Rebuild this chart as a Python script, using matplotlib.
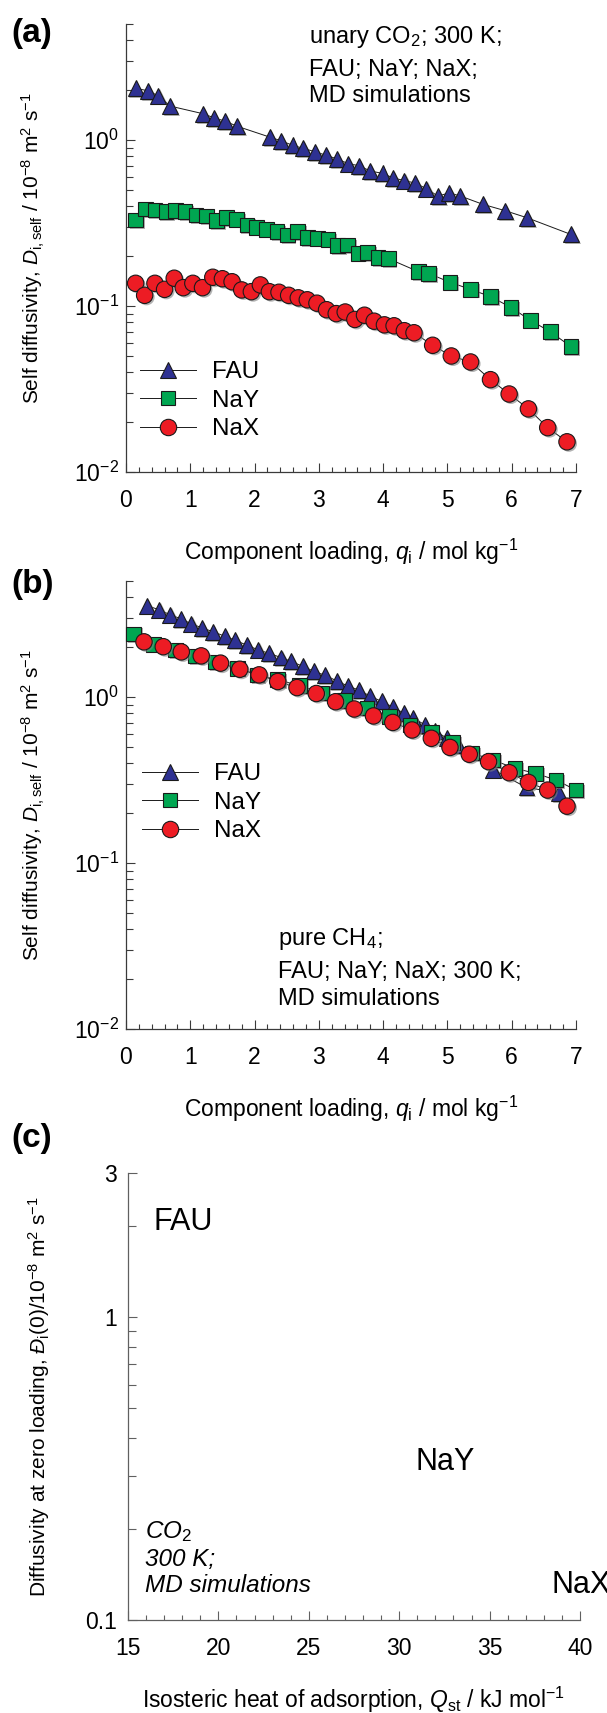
import numpy as np
import matplotlib
matplotlib.use("Agg")
import matplotlib.pyplot as plt
from matplotlib import patheffects as pe
from matplotlib.lines import Line2D
from matplotlib.ticker import MultipleLocator, LogLocator, NullFormatter, FixedLocator, FixedFormatter

plt.rcParams['font.family'] = ['Liberation Sans', 'DejaVu Sans']
plt.rcParams['mathtext.fontset'] = 'custom'
plt.rcParams['mathtext.rm'] = 'Liberation Sans'
plt.rcParams['mathtext.it'] = 'Liberation Sans:italic'
plt.rcParams['mathtext.bf'] = 'Liberation Sans:bold'

# ---------------- (a) unary CO2, self diffusivities ----------------
fau_a_q = [0.15, 0.34, 0.50, 0.69, 1.20, 1.37, 1.54, 1.73, 2.24, 2.41, 2.59, 2.76, 2.94, 3.11,
           3.28, 3.46, 3.63, 3.80, 3.99, 4.16, 4.33, 4.50, 4.67, 4.85, 5.03, 5.20, 5.55, 5.90,
           6.24, 6.92]
fau_a_d = [2.05, 1.98, 1.85, 1.60, 1.44, 1.36, 1.30, 1.21, 1.04, 0.99, 0.93, 0.89, 0.85, 0.81,
           0.77, 0.72, 0.70, 0.65, 0.63, 0.59, 0.57, 0.55, 0.51, 0.46, 0.48, 0.46, 0.41, 0.375,
           0.34, 0.27]

nay_a_q = [0.15, 0.30, 0.45, 0.62, 0.77, 0.92, 1.09, 1.25, 1.41, 1.56, 1.72, 1.88, 2.03, 2.19,
           2.35, 2.51, 2.67, 2.82, 2.98, 3.14, 3.29, 3.45, 3.61, 3.76, 3.92, 4.08, 4.55, 4.71,
           5.04, 5.36, 5.67, 5.99, 6.29, 6.60, 6.92]
nay_a_d = [0.33, 0.385, 0.378, 0.370, 0.375, 0.370, 0.353, 0.348, 0.327, 0.340, 0.333, 0.308,
           0.298, 0.290, 0.281, 0.268, 0.281, 0.258, 0.256, 0.252, 0.231, 0.233, 0.208, 0.210,
           0.196, 0.193, 0.161, 0.157, 0.139, 0.126, 0.114, 0.098, 0.082, 0.070, 0.057]

nax_a_q = [0.15, 0.29, 0.45, 0.60, 0.75, 0.89, 1.04, 1.19, 1.35, 1.50, 1.65, 1.80, 1.95, 2.09,
           2.23, 2.38, 2.53, 2.68, 2.82, 2.97, 3.12, 3.27, 3.41, 3.56, 3.71, 3.86, 4.02, 4.17,
           4.33, 4.48, 4.77, 5.06, 5.36, 5.67, 5.96, 6.26, 6.56, 6.86]
nax_a_d = [0.137, 0.116, 0.137, 0.126, 0.147, 0.129, 0.137, 0.129, 0.149, 0.146, 0.140, 0.125,
           0.122, 0.134, 0.122, 0.121, 0.116, 0.112, 0.109, 0.104, 0.095, 0.090, 0.092, 0.083,
           0.088, 0.081, 0.077, 0.076, 0.071, 0.069, 0.058, 0.050, 0.046, 0.036, 0.0295, 0.024,
           0.0185, 0.0152]

# ---------------- (b) pure CH4, self diffusivities ----------------
fau_b_q = [0.33, 0.51, 0.68, 0.85, 1.01, 1.18, 1.36, 1.54, 1.70, 1.88, 2.05, 2.23, 2.41, 2.57,
           2.75, 2.92, 3.10, 3.28, 3.46, 3.63, 3.80, 3.98, 4.15, 4.32, 4.47, 4.65, 4.81, 4.99,
           5.17, 5.71, 6.23, 6.74]
fau_b_d = [3.55, 3.36, 3.14, 2.96, 2.77, 2.61, 2.47, 2.32, 2.20, 2.05, 1.93, 1.83, 1.73, 1.64,
           1.53, 1.43, 1.35, 1.25, 1.16, 1.10, 1.01, 0.94, 0.87, 0.80, 0.745, 0.68, 0.625, 0.565,
           0.515, 0.365, 0.285, 0.265]

nay_b_q = [0.12, 0.43, 0.77, 1.08, 1.39, 1.73, 2.04, 2.36, 2.70, 3.05, 3.40, 3.75, 4.10, 4.42,
           4.75, 5.08, 5.38, 5.71, 6.05, 6.37, 6.69, 7.00]
nay_b_d = [2.40, 2.08, 1.92, 1.77, 1.63, 1.49, 1.36, 1.27, 1.17, 1.06, 0.95, 0.86, 0.765, 0.68,
           0.615, 0.53, 0.46, 0.417, 0.372, 0.347, 0.316, 0.275]

nax_b_q = [0.28, 0.58, 0.86, 1.17, 1.47, 1.77, 2.07, 2.36, 2.66, 2.96, 3.26, 3.55, 3.85, 4.15,
           4.45, 4.75, 5.04, 5.34, 5.64, 5.96, 6.26, 6.56, 6.86]
nax_b_d = [2.15, 2.01, 1.87, 1.77, 1.60, 1.47, 1.36, 1.24, 1.14, 1.05, 0.937, 0.847, 0.769,
           0.703, 0.633, 0.564, 0.497, 0.452, 0.408, 0.350, 0.306, 0.275, 0.220]

# ---------------- (c) zero-loading diffusivity vs Qst ----------------
zeolites = ['FAU', 'NaY', 'NaX']
q_st = [16.4, 30.9, 38.4]
d_zero = [1.95, 0.314, 0.1225]

styles = {
    'FAU': dict(marker='^', mfc='#2E3192', ms=11.5),
    'NaY': dict(marker='s', mfc='#00A651', ms=10.5),
    'NaX': dict(marker='o', mfc='#ED1C24', ms=11.8),
}
shadow = [pe.SimplePatchShadow(offset=(1.3, -1.3), shadow_rgbFace='#808080', alpha=0.6), pe.Normal()]
spine_col = '#3a3a3a'


def draw_series(ax, q, d, name):
    st = styles[name]
    ax.plot(q, d, '-', color='#1a1a1a', lw=0.7, zorder=2)
    ax.plot(q, d, ls='none', marker=st['marker'], ms=st['ms'], mfc=st['mfc'], mec='#1a1a1a',
            mew=0.8, zorder=3, clip_on=False, path_effects=shadow)


def legend_handles():
    hs = []
    for name in ['FAU', 'NaY', 'NaX']:
        st = styles[name]
        hs.append(Line2D([], [], color='#1a1a1a', lw=0.7, marker=st['marker'], ms=st['ms'],
                         mfc=st['mfc'], mec='#1a1a1a', mew=0.8, label=name))
    return hs


def style_axes(ax, col=spine_col):
    for s in ['top', 'right']:
        ax.spines[s].set_visible(False)
    for s in ['left', 'bottom']:
        ax.spines[s].set_linewidth(0.9)
        ax.spines[s].set_color(col)
    ax.tick_params(which='both', direction='in', top=False, right=False, color=col, width=0.8)


def setup_self_diff(ax):
    style_axes(ax)
    ax.set_xlim(0, 7)
    ax.set_yscale('log')
    ax.set_ylim(0.01, 5)
    ax.xaxis.set_major_locator(MultipleLocator(1))
    ax.xaxis.set_minor_locator(MultipleLocator(0.2))
    ax.yaxis.set_major_locator(LogLocator(base=10, numticks=10))
    ax.yaxis.set_minor_locator(LogLocator(base=10, subs=np.arange(2, 10), numticks=20))
    ax.yaxis.set_minor_formatter(NullFormatter())
    ax.tick_params(axis='y', which='major', length=6.5, pad=5, labelsize=16.5)
    ax.tick_params(axis='y', which='minor', length=5)
    ax.tick_params(axis='x', which='major', length=6.5, pad=12, labelsize=16.5)
    ax.tick_params(axis='x', which='minor', length=3.6)
    ax.set_xlabel(r"Component loading, $q_\mathrm{i}$ / mol kg$^{-1}$", fontsize=16.5)
    ax.set_ylabel(r"Self diffusivity, $D_\mathrm{i,self}$ / 10$^{-8}$ m$^{2}$ s$^{-1}$", fontsize=15)
    ax.xaxis.set_label_coords(0.5, -0.145)
    ax.yaxis.set_label_coords(-0.176, 0.5)


W, H = 607, 1713
fig = plt.figure(figsize=(W / 100, H / 100), dpi=100)


def add_ax(l, t, r, b):
    return fig.add_axes([l / W, 1 - b / H, (r - l) / W, (b - t) / H])


ax_a = add_ax(126, 24, 576, 472)
ax_b = add_ax(126, 581, 576, 1029)
ax_c = add_ax(128, 1173, 580, 1620)

# ---- panel a
setup_self_diff(ax_a)
draw_series(ax_a, fau_a_q, fau_a_d, 'FAU')
draw_series(ax_a, nay_a_q, nay_a_d, 'NaY')
draw_series(ax_a, nax_a_q, nax_a_d, 'NaX')
ax_a.legend(handles=legend_handles(), loc='center left', bbox_to_anchor=(0.031, 0.159),
            frameon=False, borderpad=0, borderaxespad=0, handlelength=2.3, handletextpad=0.65,
            labelspacing=0.26, fontsize=17.5, numpoints=1)
for txt, yy in [(r"unary CO$_2$; 300 K;", 0.958), ("FAU; NaY; NaX;", 0.884),
                ("MD simulations", 0.8266)]:
    ax_a.text(0.406, yy, txt, transform=ax_a.transAxes, fontsize=17, va='baseline')

# ---- panel b
setup_self_diff(ax_b)
draw_series(ax_b, fau_b_q, fau_b_d, 'FAU')
draw_series(ax_b, nay_b_q, nay_b_d, 'NaY')
draw_series(ax_b, nax_b_q, nax_b_d, 'NaX')
ax_b.legend(handles=legend_handles(), loc='center left', bbox_to_anchor=(0.036, 0.505),
            frameon=False, borderpad=0, borderaxespad=0, handlelength=2.3, handletextpad=0.65,
            labelspacing=0.26, fontsize=17.5, numpoints=1)
for txt, yy in [(r"pure CH$_4$;", 0.1875), ("FAU; NaY; NaX; 300 K;", 0.1145),
                ("MD simulations", 0.0536)]:
    ax_b.text(0.338, yy, txt, transform=ax_b.transAxes, fontsize=17, va='baseline')

# ---- panel c
style_axes(ax_c, col='#606060')
ax_c.set_xlim(15, 40)
ax_c.set_yscale('log')
ax_c.set_ylim(0.1, 3)
ax_c.xaxis.set_major_locator(MultipleLocator(5))
ax_c.xaxis.set_minor_locator(MultipleLocator(1))
ax_c.yaxis.set_major_locator(FixedLocator([0.1, 1, 3]))
ax_c.yaxis.set_major_formatter(FixedFormatter(['0.1', '1', '3']))
ax_c.yaxis.set_minor_locator(FixedLocator([0.2, 0.3, 0.4, 0.5, 0.6, 0.7, 0.8, 0.9, 2]))
ax_c.yaxis.set_minor_formatter(NullFormatter())
ax_c.tick_params(axis='y', which='major', length=6.8, pad=8, labelsize=16.5)
ax_c.tick_params(axis='y', which='minor', length=5.6)
ax_c.tick_params(axis='x', which='major', length=6.8, pad=12.5, labelsize=16.5)
ax_c.tick_params(axis='x', which='minor', length=3.6)
ax_c.set_xlabel(r"Isosteric heat of adsorption, $Q_\mathrm{st}$ / kJ mol$^{-1}$", fontsize=16.5)
ax_c.set_ylabel(r"Diffusivity at zero loading, $\mathit{Đ}_\mathrm{i}$(0)/10$^{-8}$ m$^{2}$ s$^{-1}$",
                fontsize=15)
ax_c.xaxis.set_label_coords(0.5, -0.146)
ax_c.yaxis.set_label_coords(-0.168, 0.5)
for name, qq, dd in zip(zeolites, q_st, d_zero):
    ax_c.text(qq, dd, name, fontsize=22, va='baseline', ha='left', clip_on=False)
for txt, yy in [(r"$CO_2$", 0.1828), ("300 K;", 0.1208), ("MD simulations", 0.0633)]:
    ax_c.text(0.037, yy, txt, transform=ax_c.transAxes, fontsize=17.5, style='italic',
              va='baseline')

# panel labels
for lab, yy in [("(a)", 1 - 41.7 / H), ("(b)", 1 - 593.3 / H), ("(c)", 1 - 1146.7 / H)]:
    fig.text(11.7 / W, yy, lab, fontsize=24, fontweight='bold', va='baseline')

fig.savefig("out.png", dpi=100)
